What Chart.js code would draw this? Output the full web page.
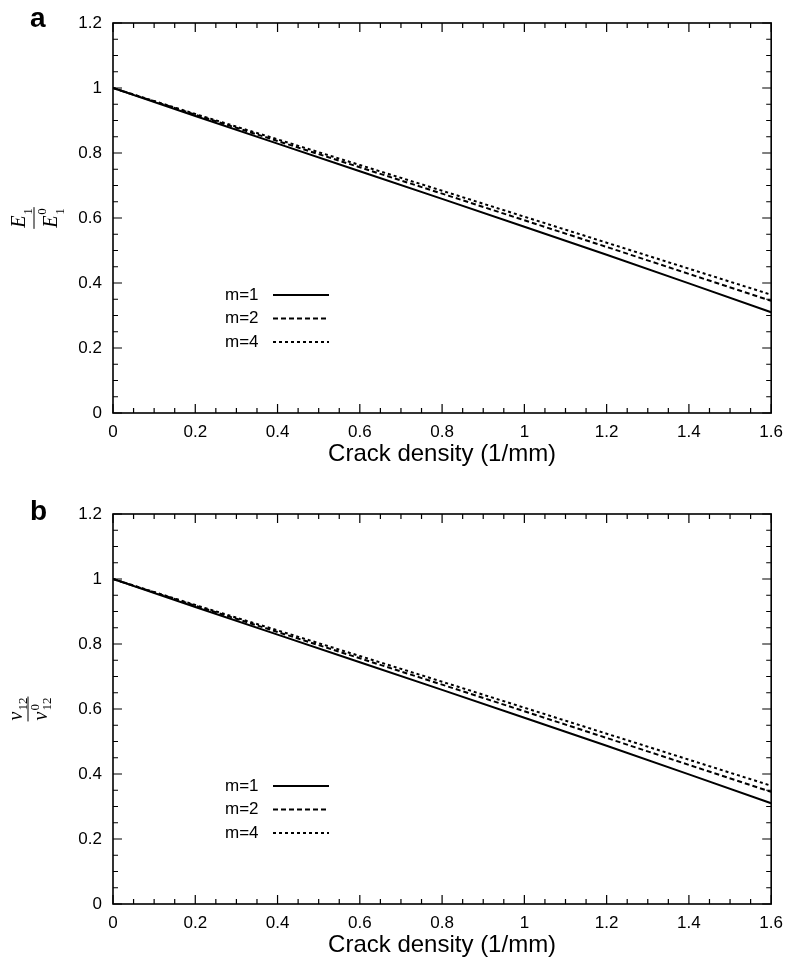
<!DOCTYPE html>
<html>
<head>
<meta charset="utf-8">
<title>Crack density</title>
<script src="https://cdn.jsdelivr.net/npm/chart.js@4.4.1/dist/chart.umd.min.js"></script>
<style>
  html, body { margin: 0; padding: 0; background: #fff; overflow: hidden; }
  canvas { display: block; }
</style>
</head>
<body>
<canvas id="chartA" width="792" height="491"></canvas>
<canvas id="chartB" width="792" height="475"></canvas>
<script>
// crack density (1/mm) at which the curves are sampled
const crackDensity = [0, 0.2, 0.4, 0.6, 0.8, 1.0, 1.2, 1.4, 1.6];

// panel a: E1 / E1^0
const modulusM1 = [1.0, 0.914, 0.829, 0.744, 0.659, 0.573, 0.487, 0.399, 0.31];
const modulusM2 = [1.0, 0.918, 0.837, 0.756, 0.675, 0.593, 0.511, 0.428, 0.345];
const modulusM4 = [1.0, 0.920, 0.842, 0.763, 0.684, 0.604, 0.524, 0.444, 0.364];

// panel b: nu12 / nu12^0
const poissonM1 = [1.0, 0.914, 0.829, 0.744, 0.659, 0.573, 0.487, 0.399, 0.31];
const poissonM2 = [1.0, 0.918, 0.837, 0.756, 0.675, 0.593, 0.511, 0.428, 0.345];
const poissonM4 = [1.0, 0.920, 0.842, 0.763, 0.684, 0.604, 0.524, 0.444, 0.364];

const seriesLabels = ['m=1', 'm=2', 'm=4'];
const xTicks = [0, 0.2, 0.4, 0.6, 0.8, 1, 1.2, 1.4, 1.6];
const yTicks = [0, 0.2, 0.4, 0.6, 0.8, 1, 1.2];

const SANS = '"Liberation Sans", Arial, Helvetica, sans-serif';
const SERIF = '"Liberation Serif", "Times New Roman", serif';
const dashes = [[], [5, 3], [3, 3]];

// inward major/minor tics on all four sides, plus the box
const framePlugin = {
  id: 'frame',
  afterDatasetsDraw(chart) {
    const { ctx, chartArea: a, scales } = chart;
    const minors = (ticks) => {
      const out = [];
      for (let i = 0; i < ticks.length - 1; i++) {
        for (let k = 1; k < 4; k++) out.push(ticks[i] + (ticks[i + 1] - ticks[i]) * k / 4);
      }
      return out;
    };
    ctx.save();
    ctx.strokeStyle = '#000';
    ctx.lineWidth = 1.2;
    ctx.beginPath();
    const tickX = (v, len) => {
      const px = scales.x.getPixelForValue(v);
      ctx.moveTo(px, a.bottom); ctx.lineTo(px, a.bottom - len);
      ctx.moveTo(px, a.top); ctx.lineTo(px, a.top + len);
    };
    const tickY = (v, len) => {
      const py = scales.y.getPixelForValue(v);
      ctx.moveTo(a.left, py); ctx.lineTo(a.left + len, py);
      ctx.moveTo(a.right, py); ctx.lineTo(a.right - len, py);
    };
    xTicks.forEach(v => tickX(v, 9));
    minors(xTicks).forEach(v => tickX(v, 5));
    yTicks.forEach(v => tickY(v, 9));
    minors(yTicks).forEach(v => tickY(v, 5));
    ctx.stroke();
    ctx.lineWidth = 1.6;
    ctx.strokeRect(a.left, a.top, a.right - a.left, a.bottom - a.top);
    ctx.restore();
  }
};

function drawFraction(ctx, cx, cy, t) {
  const big = 'italic 20px ' + SERIF;
  const small = '13px ' + SERIF;
  const rowWidth = (row) => {
    ctx.font = big;
    const w = ctx.measureText(row.base).width;
    ctx.font = small;
    const s = Math.max(ctx.measureText(row.sub || '').width, ctx.measureText(row.sup || '').width);
    return { w, total: w + 1 + s };
  };
  ctx.save();
  ctx.translate(cx, cy);
  ctx.rotate(-Math.PI / 2);
  ctx.fillStyle = '#000';
  ctx.textBaseline = 'alphabetic';
  ctx.textAlign = 'left';

  const n = rowWidth(t.num);
  let u = -n.total / 2;
  ctx.font = big; ctx.fillText(t.num.base, u, t.numBase);
  ctx.font = small; ctx.fillText(t.num.sub, u + n.w + 1, t.numSub);

  const d = rowWidth(t.den);
  u = -d.total / 2;
  ctx.font = big; ctx.fillText(t.den.base, u, t.denBase);
  ctx.font = small;
  ctx.fillText(t.den.sup, u + d.w + 1, t.denSup);
  ctx.fillText(t.den.sub, u + d.w + 1, t.denSub);

  const half = Math.max(n.total, d.total) / 2 + 1;
  ctx.lineWidth = 1;
  ctx.strokeStyle = '#000';
  ctx.beginPath();
  ctx.moveTo(-half, 0); ctx.lineTo(half, 0);
  ctx.stroke();
  ctx.restore();
}

// panel letter, y-axis fraction and the in-plot key
const annotatePlugin = {
  id: 'annotate',
  afterDraw(chart, args, opts) {
    const { ctx, chartArea: a } = chart;
    ctx.save();
    ctx.fillStyle = '#000';
    ctx.font = 'bold 28px ' + SANS;
    ctx.textBaseline = 'alphabetic';
    ctx.fillText(opts.letter, 30, opts.letterY);

    drawFraction(ctx, opts.frac.barX, (a.top + a.bottom) / 2, opts.frac);

    ctx.font = '17px ' + SANS;
    ctx.textBaseline = 'middle';
    chart.data.datasets.forEach((ds, i) => {
      const y = 295 + i * 23.5;
      ctx.fillStyle = '#000';
      ctx.fillText(ds.label, 225, y);
      ctx.strokeStyle = ds.borderColor;
      ctx.lineWidth = ds.borderWidth;
      ctx.setLineDash(ds.borderDash);
      ctx.beginPath();
      ctx.moveTo(273, y); ctx.lineTo(329, y);
      ctx.stroke();
    });
    ctx.restore();
  }
};

function makeChart(id, series, letter, letterY, frac, padBottom) {
  const datasets = series.map((vals, i) => ({
    label: seriesLabels[i],
    data: crackDensity.map((x, j) => ({ x, y: vals[j] })),
    borderColor: '#000',
    borderWidth: 2,
    borderDash: dashes[i],
    pointRadius: 0,
    fill: false,
    tension: 0
  }));

  const tickFont = { family: SANS, size: 17 };

  return new Chart(document.getElementById(id), {
    type: 'line',
    data: { datasets },
    plugins: [framePlugin, annotatePlugin],
    options: {
      responsive: false,
      animation: false,
      layout: { padding: { top: 23, right: 19, bottom: padBottom, left: 0 } },
      plugins: {
        legend: { display: false },
        tooltip: { enabled: false },
        annotate: { letter, letterY, frac }
      },
      scales: {
        x: {
          type: 'linear',
          min: 0,
          max: 1.6,
          afterBuildTicks: s => { s.ticks = xTicks.map(v => ({ value: v })); },
          afterFit: s => { s.height = 56; },
          grid: { display: false, drawTicks: false },
          border: { display: false },
          ticks: {
            color: '#000', font: tickFont, padding: 9,
            autoSkip: false, maxRotation: 0,
            callback: v => String(v)
          },
          title: {
            display: true,
            text: 'Crack density (1/mm)',
            color: '#000',
            font: { family: SANS, size: 24, lineHeight: 1 },
            padding: { top: 0, bottom: 3 }
          }
        },
        y: {
          type: 'linear',
          min: 0,
          max: 1.2,
          afterBuildTicks: s => { s.ticks = yTicks.map(v => ({ value: v })); },
          afterFit: s => { s.width = 113; },
          grid: { display: false, drawTicks: false },
          border: { display: false },
          ticks: {
            color: '#000', font: tickFont, padding: 11,
            callback: v => String(v)
          }
        }
      }
    }
  });
}

makeChart('chartA', [modulusM1, modulusM2, modulusM4], 'a', 27, {
  num: { base: 'E', sub: '1' },
  den: { base: 'E', sub: '1', sup: '0' },
  barX: 34, numBase: -9, numSub: -2, denBase: 23, denSup: 12, denSub: 30
}, 22);

makeChart('chartB', [poissonM1, poissonM2, poissonM4], 'b', 29, {
  num: { base: 'ν', sub: '12' },
  den: { base: 'ν', sub: '12', sup: '0' },
  barX: 28, numBase: -6, numSub: -1, denBase: 19, denSup: 11, denSub: 23
}, 6);
</script>
</body>
</html>
